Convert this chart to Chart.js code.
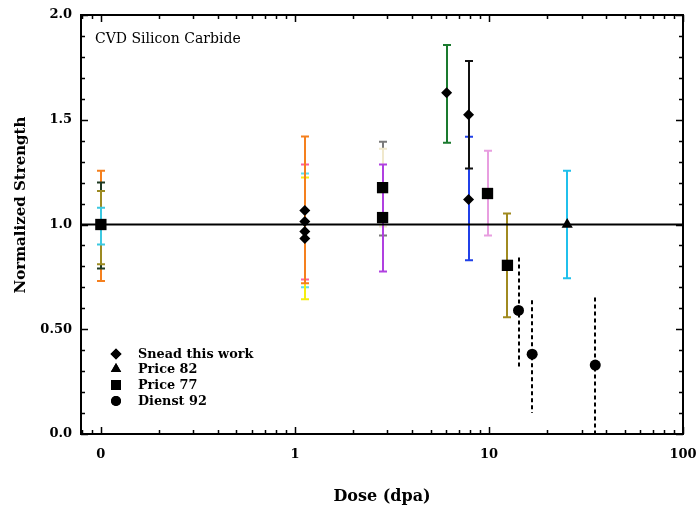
<!DOCTYPE html>
<html>
<head>
<meta charset="utf-8">
<script src="https://cdn.jsdelivr.net/npm/chart.js@4.4.1/dist/chart.umd.min.js"></script>
<style>
html,body{margin:0;padding:0;background:#fff;}
#wrap{width:699px;height:514px;position:relative;}
</style>
</head>
<body>
<div id="wrap"><canvas id="c" width="699" height="514"></canvas></div>
<script>
// ---- tick labels ----
const xTickValues = [0.1, 1, 10, 100];
const xTickLabels = ['0', '1', '10', '100'];
const yTickValues = [0, 0.5, 1.0, 1.5, 2.0];
const yTickLabels = ['0.0', '0.50', '1.0', '1.5', '2.0'];

// ---- series (dose in dpa, "0" plotted at 0.1) ----
const seriesNames = ['Snead this work', 'Price 82', 'Price 77', 'Dienst 92'];
const sneadX = [1.125, 1.125, 1.125, 1.125, 6.05, 7.85, 7.85];
const sneadY = [1.067, 1.014, 0.967, 0.933, 1.629, 1.524, 1.119];
const price82X = [25.3];
const price82Y = [1.0];
const price77X = [0.1, 2.83, 2.83, 9.83, 12.45];
const price77Y = [1.0, 1.176, 1.033, 1.148, 0.805];
const dienstX = [14.2, 16.7, 35.3];
const dienstY = [0.59, 0.381, 0.329];

// ---- error bars ----
const errX    = [0.1, 0.1, 0.1, 0.1, 1.125, 1.125, 1.125, 1.125, 2.83, 2.83, 2.83, 6.05, 7.85, 7.85, 9.83, 12.45, 25.3];
const errLow  = [0.73, 0.79, 0.81, 0.905, 0.738, 0.70, 0.643, 0.72, 0.948, 0.99, 0.776, 1.39, 0.829, 1.267, 0.948, 0.557, 0.743];
const errHigh = [1.257, 1.20, 1.16, 1.08, 1.286, 1.243, 1.224, 1.42, 1.395, 1.362, 1.286, 1.857, 1.419, 1.78, 1.352, 1.052, 1.257];
const errColors = ['#f5801e', '#1f3a22', '#9c8a22', '#3cc8e0', '#ff5fa0', '#5ce0f0', '#f5ee10', '#f5801e', '#7a7a7a', '#f0e8cc', '#b040e0', '#1a7a2e', '#2040e8', '#111111', '#e89ee0', '#a08a20', '#20c0ec'];
// Dienst 92 ranges (dashed)
const dashX    = [14.2, 16.7, 35.3];
const dashLow  = [0.31, 0.10, 0.0];
const dashHigh = [0.843, 0.638, 0.652];

const referenceY = 1.0;
const xMin = 0.079, xMax = 100;

const serif = "'DejaVu Serif', serif";

const errorBarPlugin = {
  id: 'errorBars',
  beforeDatasetsDraw(chart) {
    const {ctx, scales: {x, y}} = chart;
    ctx.save();
    ctx.lineWidth = 2;
    ctx.lineCap = 'butt';
    for (let i = 0; i < errX.length; i++) {
      const px = Math.round(x.getPixelForValue(errX[i]));
      const y1 = y.getPixelForValue(errLow[i]);
      const y2 = y.getPixelForValue(errHigh[i]);
      ctx.strokeStyle = errColors[i];
      ctx.beginPath();
      ctx.moveTo(px, y1); ctx.lineTo(px, y2);
      ctx.moveTo(px - 4, y1); ctx.lineTo(px + 4, y1);
      ctx.moveTo(px - 4, y2); ctx.lineTo(px + 4, y2);
      ctx.stroke();
    }
    ctx.setLineDash([4, 3]);
    ctx.strokeStyle = '#000';
    for (let i = 0; i < dashX.length; i++) {
      const px = Math.round(x.getPixelForValue(dashX[i]));
      ctx.beginPath();
      ctx.moveTo(px, y.getPixelForValue(dashHigh[i]));
      ctx.lineTo(px, y.getPixelForValue(dashLow[i]));
      ctx.stroke();
    }
    ctx.restore();
  }
};

const framePlugin = {
  id: 'frame',
  afterDraw(chart) {
    const {ctx, chartArea: a, scales: {x, y}} = chart;
    ctx.save();
    ctx.strokeStyle = '#000';
    ctx.lineWidth = 2;
    ctx.strokeRect(a.left, a.top, a.right - a.left, a.bottom - a.top);
    ctx.lineWidth = 1.5;
    ctx.beginPath();
    // x ticks (log) top & bottom, inward
    const xt = [];
    for (let d = -2; d <= 2; d++) {
      for (let m = 1; m <= 9; m++) {
        const v = m * Math.pow(10, d);
        if (v >= xMin && v <= xMax) xt.push([v, m === 1 ? 7 : 4]);
      }
    }
    xt.forEach(([v, len]) => {
      const px = Math.round(x.getPixelForValue(v)) + 0.5;
      ctx.moveTo(px, a.bottom); ctx.lineTo(px, a.bottom - len);
      ctx.moveTo(px, a.top); ctx.lineTo(px, a.top + len);
    });
    // y ticks every 0.1, longer every 0.5
    for (let k = 0; k <= 20; k++) {
      const v = k / 10;
      const len = (k % 5 === 0) ? 7 : 4;
      const py = Math.round(y.getPixelForValue(v)) + 0.5;
      ctx.moveTo(a.left, py); ctx.lineTo(a.left + len, py);
      ctx.moveTo(a.right, py); ctx.lineTo(a.right - len, py);
    }
    ctx.stroke();

    // y axis title
    ctx.fillStyle = '#000';
    ctx.save();
    ctx.translate(21, 205);
    ctx.rotate(-Math.PI / 2);
    ctx.font = "bold 15px " + serif;
    ctx.textAlign = 'center';
    ctx.textBaseline = 'middle';
    ctx.fillText('Normalized Strength', 0, 0);
    ctx.restore();

    // annotation
    ctx.font = "14px " + serif;
    ctx.textBaseline = 'alphabetic';
    ctx.textAlign = 'left';
    ctx.fillText('CVD Silicon Carbide', 95, 43);

    // legend
    const styles = chart.data.datasets.filter(d => d.legendIndex !== undefined);
    const rowY = [354, 369, 385, 401];
    styles.forEach(ds => {
      const i = ds.legendIndex;
      ctx.fillStyle = '#000';
      ctx.strokeStyle = '#000';
      Chart.helpers.drawPoint(ctx, {pointStyle: ds.pointStyle, radius: ds.legendRadius, borderWidth: 0, rotation: 0}, 116, rowY[i]);
      ctx.fill();
      ctx.font = "bold 12.8px " + serif;
      ctx.textBaseline = 'middle';
      ctx.fillText(seriesNames[i], 138, rowY[i] + 0.5);
    });
    ctx.restore();
  }
};

const toPts = (xs, ys) => xs.map((v, i) => ({x: v, y: ys[i]}));

new Chart(document.getElementById('c'), {
  type: 'scatter',
  data: {
    datasets: [
      {label: 'ref', type: 'line', data: [{x: xMin, y: referenceY}, {x: xMax, y: referenceY}], borderColor: '#000', borderWidth: 2, pointRadius: 0, order: 5},
      {label: seriesNames[0], legendIndex: 0, data: toPts(sneadX, sneadY), pointStyle: 'rectRot', pointRadius: 5.5, legendRadius: 5.5, backgroundColor: '#000', borderColor: '#000', borderWidth: 0, order: 1},
      {label: seriesNames[1], legendIndex: 1, data: toPts(price82X, price82Y), pointStyle: 'triangle', pointRadius: 6.5, legendRadius: 6, backgroundColor: '#000', borderColor: '#000', borderWidth: 0, order: 1},
      {label: seriesNames[2], legendIndex: 2, data: toPts(price77X, price77Y), pointStyle: 'rect', pointRadius: 8, legendRadius: 7, backgroundColor: '#000', borderColor: '#000', borderWidth: 0, order: 1},
      {label: seriesNames[3], legendIndex: 3, data: toPts(dienstX, dienstY), pointStyle: 'circle', pointRadius: 5.5, legendRadius: 5, backgroundColor: '#000', borderColor: '#000', borderWidth: 0, order: 1}
    ]
  },
  options: {
    responsive: false,
    devicePixelRatio: 1,
    animation: false,
    events: [],
    layout: {padding: {top: 15, right: 16, left: 0, bottom: 0}},
    plugins: {legend: {display: false}, tooltip: {enabled: false}},
    scales: {
      x: {
        type: 'logarithmic',
        min: xMin, max: xMax,
        grid: {display: false, drawTicks: false},
        border: {display: false},
        afterFit: s => { s.height = 80; s.paddingLeft = 0; s.paddingRight = 0; },
        afterBuildTicks: s => { s.ticks = xTickValues.map(v => ({value: v})); },
        ticks: {
          autoSkip: false, maxRotation: 0, padding: 13, color: '#000',
          font: {family: serif, size: 13, weight: 'bold'},
          callback: (v) => { const i = xTickValues.indexOf(v); return i >= 0 ? xTickLabels[i] : ''; }
        },
        title: {display: true, text: 'Dose (dpa)', color: '#000', font: {family: serif, size: 16, weight: 'bold'}, padding: {top: 0, bottom: 8}}
      },
      y: {
        type: 'linear',
        min: 0, max: 2,
        grid: {display: false, drawTicks: false},
        border: {display: false},
        afterFit: s => { s.width = 81; s.paddingTop = 0; s.paddingBottom = 0; },
        afterBuildTicks: s => { s.ticks = yTickValues.map(v => ({value: v})); },
        ticks: {
          autoSkip: false, padding: 9, color: '#000',
          font: {family: serif, size: 13, weight: 'bold'},
          callback: (v) => { const i = yTickValues.indexOf(v); return i >= 0 ? yTickLabels[i] : ''; }
        },
        title: {display: false}
      }
    }
  },
  plugins: [errorBarPlugin, framePlugin]
});
</script>
</body>
</html>
